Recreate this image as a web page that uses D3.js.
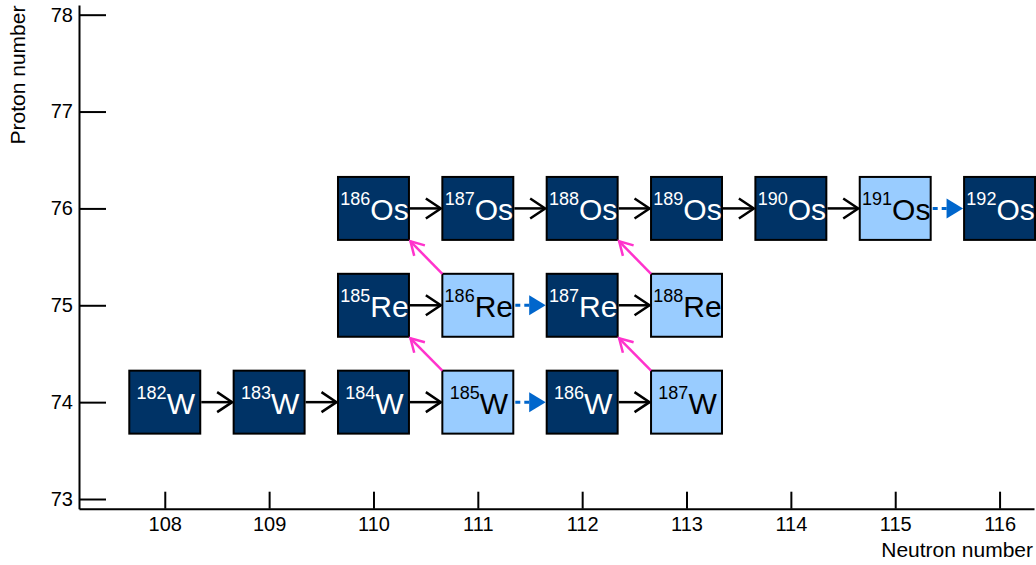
<!DOCTYPE html>
<html>
<head>
<meta charset="utf-8">
<script src="https://cdn.jsdelivr.net/npm/d3@7"></script>
<style>
  html, body { margin: 0; padding: 0; background: #fff; }
  svg { display: block; }
  text { font-family: "Liberation Sans", Arial, Helvetica, sans-serif; }
</style>
</head>
<body>
<svg id="chart" width="1036" height="565"></svg>
<script>
// ---------- data ----------
const xTicks = [108, 109, 110, 111, 112, 113, 114, 115, 116];
const yTicks = [73, 74, 75, 76, 77, 78];

// nuclides (one entry per box)
const nucSymbol  = ["W","W","W","W","W","W", "Re","Re","Re","Re", "Os","Os","Os","Os","Os","Os","Os"];
const nucMass    = [182,183,184,185,186,187, 185,186,187,188, 186,187,188,189,190,191,192];
const nucN       = [108,109,110,111,112,113, 110,111,112,113, 110,111,112,113,114,115,116];
const nucZ       = [74,74,74,74,74,74, 75,75,75,75, 76,76,76,76,76,76,76];
const nucStable  = [1,1,1,0,1,0, 1,0,1,0, 1,1,1,1,1,0,1];

// neutron-capture arrows (from N to N+1 at fixed Z); dashed = capture on an unstable nucleus
const capZ      = [74,74,74,74,74, 75,75,75, 76,76,76,76,76,76];
const capFromN  = [108,109,110,111,112, 110,111,112, 110,111,112,113,114,115];
const capDashed = [0,0,0,1,0, 0,1,0, 0,0,0,0,0,1];

// beta-decay arrows (N,Z) -> (N-1, Z+1)
const decFromN = [111, 111, 113, 113];
const decFromZ = [74, 75, 74, 75];

// ---------- layout ----------
const svg = d3.select("#chart");
const x = d3.scaleLinear().domain([107.178, 116.33]).range([79, 1034]);
const y = d3.scaleLinear().domain([72.9, 78.1]).range([508.7, 5]);
const BW = 0.68, BH = 0.65;           // box size in data units
const DARK = "#003366", LIGHT = "#99ccff", BLUE = "#0066cc", PINK = "#ff33cc";

// axes
const gx = svg.append("g").attr("transform", `translate(0,${y(72.9)})`)
  .call(d3.axisBottom(x).tickValues(xTicks).tickSizeInner(-17).tickSizeOuter(0).tickPadding(8).tickFormat(d3.format("d")));
const gy = svg.append("g").attr("transform", `translate(${x(107.178)},0)`)
  .call(d3.axisLeft(y).tickValues(yTicks).tickSizeInner(-27).tickSizeOuter(0).tickPadding(6).tickFormat(d3.format("d")));
[gx, gy].forEach(g => {
  g.select(".domain").attr("stroke", "#000").attr("stroke-width", 2);
  g.selectAll(".tick line").attr("stroke", "#000").attr("stroke-width", 2);
  g.selectAll(".tick text").attr("fill", "#000").style("font-size", "20px")
    .style("font-family", '"Liberation Sans", Arial, Helvetica, sans-serif');
});

svg.append("text").attr("transform", "translate(25,75) rotate(-90)")
  .attr("text-anchor", "middle").style("font-size", "21px").text("Proton number");
svg.append("text").attr("x", 1033).attr("y", 557)
  .attr("text-anchor", "end").style("font-size", "21px").text("Neutron number");

// boxes
const nuc = nucN.map((n, i) => ({ N: n, Z: nucZ[i], A: nucMass[i], s: nucSymbol[i], stable: nucStable[i] }));
const boxes = svg.append("g");
boxes.selectAll("rect").data(nuc).join("rect")
  .attr("x", d => x(d.N - BW / 2))
  .attr("y", d => y(d.Z + BH / 2))
  .attr("width", d => x(d.N + BW / 2) - x(d.N - BW / 2))
  .attr("height", d => y(d.Z - BH / 2) - y(d.Z + BH / 2))
  .attr("fill", d => d.stable ? DARK : LIGHT)
  .attr("stroke", "#000").attr("stroke-width", 2);

const labels = boxes.selectAll("text").data(nuc).join("text")
  .attr("x", d => x(d.N) + 1)
  .attr("y", d => y(d.Z) + 12)
  .attr("text-anchor", "middle")
  .attr("fill", d => d.stable ? "#fff" : "#000");
labels.append("tspan").style("font-size", "18px").attr("dy", -15).text(d => d.A);
labels.append("tspan").style("font-size", "30px").attr("dy", 15).text(d => d.s);

// capture arrows
const caps = capFromN.map((n, i) => ({ N: n, Z: capZ[i], dashed: capDashed[i] }));
const arrows = svg.append("g");
caps.forEach(c => {
  const x0 = x(c.N + BW / 2) + 1, x1 = x(c.N + 1 - BW / 2) - 1.5, yy = y(c.Z);
  if (!c.dashed) {
    arrows.append("line").attr("x1", x0).attr("x2", x1).attr("y1", yy).attr("y2", yy)
      .attr("stroke", "#000").attr("stroke-width", 2.5);
    arrows.append("path").attr("d", `M${x1 - 15},${yy - 10}L${x1},${yy}L${x1 - 15},${yy + 10}`)
      .attr("fill", "none").attr("stroke", "#000").attr("stroke-width", 2.5);
  } else {
    arrows.append("line").attr("x1", x0 + 1).attr("x2", x1 - 15).attr("y1", yy).attr("y2", yy)
      .attr("stroke", BLUE).attr("stroke-width", 3).attr("stroke-dasharray", "5,4");
    arrows.append("path").attr("d", `M${x1 - 16},${yy - 10}L${x1 + 0.5},${yy}L${x1 - 16},${yy + 10}Z`)
      .attr("fill", BLUE);
  }
});

// decay arrows
decFromN.forEach((n, i) => {
  const z = decFromZ[i];
  const sx = x(n - BW / 2), sy = y(z + BH / 2);
  const ex = x(n - 1 + BW / 2) + 1.5, ey = y(z + 1 - BH / 2) + 1.5;
  const ang = Math.atan2(sy - ey, sx - ex);
  const L = 15, a = Math.PI / 6;
  arrows.append("line").attr("x1", sx).attr("y1", sy).attr("x2", ex).attr("y2", ey)
    .attr("stroke", PINK).attr("stroke-width", 2.5);
  arrows.append("path")
    .attr("d", `M${ex + L * Math.cos(ang - a)},${ey + L * Math.sin(ang - a)}L${ex},${ey}L${ex + L * Math.cos(ang + a)},${ey + L * Math.sin(ang + a)}`)
    .attr("fill", "none").attr("stroke", PINK).attr("stroke-width", 2.5);
});
</script>
</body>
</html>
